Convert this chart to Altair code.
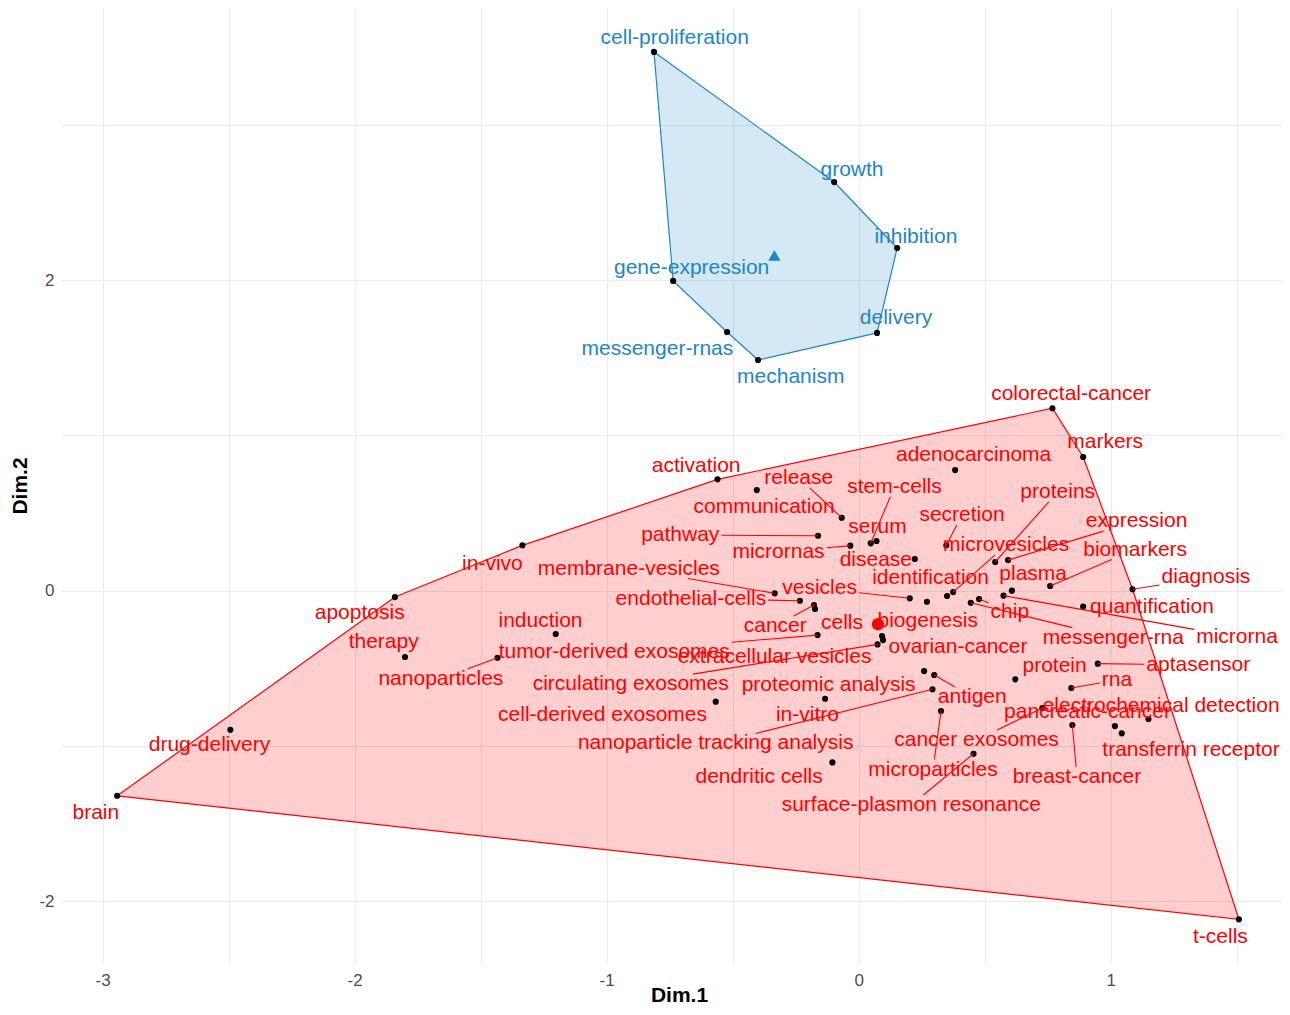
import altair as alt
import pandas as pd

# ---------------- data ----------------
cluster2_terms = ["cell-proliferation", "growth", "inhibition", "gene-expression",
                  "messenger-rnas", "mechanism", "delivery"]
cluster2_dim1 = [-0.812, -0.097, 0.153, -0.736, -0.522, -0.399, 0.073]
cluster2_dim2 = [3.469, 2.631, 2.206, 1.994, 1.665, 1.485, 1.659]

cluster1_terms = [
    "colorectal-cancer", "markers", "adenocarcinoma", "activation", "release",
    "stem-cells", "communication", "serum", "secretion", "proteins",
    "expression", "pathway", "micrornas", "disease", "microvesicles",
    "biomarkers", "in-vivo", "membrane-vesicles", "identification", "plasma",
    "diagnosis", "vesicles", "endothelial-cells", "apoptosis", "quantification",
    "induction", "cancer", "cells", "biogenesis", "chip",
    "messenger-rna", "microrna", "therapy", "tumor-derived exosomes", "extracellular vesicles",
    "ovarian-cancer", "aptasensor", "nanoparticles", "circulating exosomes", "proteomic analysis",
    "protein", "rna", "antigen", "cell-derived exosomes", "in-vitro",
    "pancreatic-cancer", "electrochemical detection", "drug-delivery", "nanoparticle tracking analysis", "cancer exosomes",
    "transferrin receptor", "dendritic cells", "microparticles", "breast-cancer", "surface-plasmon resonance",
    "brain", "t-cells"]
cluster1_dim1 = [
    0.769, 0.891, 0.383, -0.560, -0.067,
    0.048, -0.404, 0.071, 0.348, 0.542,
    0.593, -0.161, -0.033, 0.223, 0.375,
    0.760, -1.334, -0.333, 0.351, 0.608,
    1.087, 0.203, -0.233, -1.840, 0.891,
    -1.202, -0.177, -0.173, 0.271, 0.478,
    0.445, 0.575, -1.800, -0.163, 0.097,
    0.093, 0.949, -1.433, 0.075, 0.260,
    0.622, 0.844, 0.300, -0.567, -0.133,
    1.017, 1.150, -2.493, 0.293, 0.729,
    1.044, -0.104, 0.327, 0.848, 0.456,
    -2.942, 1.509]
cluster1_dim2 = [
    1.174, 0.860, 0.776, 0.716, 0.469,
    0.304, 0.647, 0.319, 0.291, 0.184,
    0.196, 0.353, 0.289, 0.203, -0.010,
    0.029, 0.291, -0.018, -0.035, -0.001,
    0.008, -0.050, -0.066, -0.042, -0.104,
    -0.280, -0.093, -0.119, -0.072, -0.055,
    -0.079, -0.033, -0.428, -0.287, -0.319,
    -0.293, -0.471, -0.433, -0.347, -0.519,
    -0.572, -0.628, -0.544, -0.716, -0.697,
    -0.873, -0.828, -0.897, -0.636, -0.757,
    -0.920, -1.107, -0.776, -0.866, -1.051,
    -1.322, -2.118]

# ---------------- label layout (repelled label offsets in pixels, leader flag) ----------------
label_layout = {
    "cell-proliferation": (20.7, -14.2, 0), "growth": (17.8, -12, 0), "inhibition": (18.7, -11, 0),
    "gene-expression": (18.5, -13, 0), "messenger-rnas": (-69.7, 16.5, 0), "mechanism": (32.7, 17, 0),
    "delivery": (19, -14.5, 0),
    "colorectal-cancer": (18.7, -14.3, 0), "markers": (22, -15, 0), "adenocarcinoma": (18.5, -15, 0),
    "activation": (-21.3, -13.3, 0), "release": (-43, -39.9, 1), "stem-cells": (23.8, -56.5, 1),
    "communication": (7.3, 16.8, 0), "serum": (1, -14.2, 0), "secretion": (15.7, -30.3, 1),
    "proteins": (62.5, -70, 1), "expression": (128.5, -39, 1), "pathway": (-137.8, -0.7, 1),
    "micrornas": (-71.8, 6.1, 1), "disease": (-39, 1, 0), "microvesicles": (53, -47, 1),
    "biomarkers": (85, -36.5, 1), "in-vivo": (-30, 18.2, 0), "membrane-vesicles": (-145.9, -24.8, 1),
    "identification": (-16.5, -17.5, 0), "plasma": (21.3, -16.2, 0), "diagnosis": (73.4, -11.8, 1),
    "vesicles": (-90.2, -9.8, 1), "endothelial-cells": (-109, -2.2, 1), "apoptosis": (-35.2, 16, 0),
    "quantification": (68.8, 0.3, 0), "induction": (-15.2, -13, 0), "cancer": (-38.8, 21, 1),
    "cells": (27, 14, 0), "biogenesis": (0.8, 18.8, 0), "chip": (30.8, 13, 1),
    "messenger-rna": (142.6, 34.8, 1), "microrna": (233.5, 41.3, 1), "therapy": (-21.3, -15, 0),
    "tumor-derived exosomes": (-203.3, 17, 1), "extracellular vesicles": (-108.5, 17, 0),
    "ovarian-cancer": (76, 11, 0), "aptasensor": (100.5, 1.3, 1), "nanoparticles": (-56.6, 21.3, 1),
    "circulating exosomes": (-246.8, 39.7, 1), "proteomic analysis": (-95.5, 14, 0),
    "protein": (39.2, -13.3, 0), "rna": (45.7, -8, 1), "antigen": (38, 22, 1),
    "cell-derived exosomes": (-113.2, 13.3, 0), "in-vitro": (-17.7, 16.3, 0),
    "pancreatic-cancer": (-27.4, -14, 0), "electrochemical detection": (12.7, -13, 0),
    "drug-delivery": (-20.9, 15.3, 0), "nanoparticle tracking analysis": (-216.8, 54.2, 1),
    "cancer exosomes": (-65.8, 32, 1), "transferrin receptor": (69.3, 16.2, 0),
    "dendritic cells": (-73.3, 14.7, 0), "microparticles": (-8, 58.5, 1),
    "breast-cancer": (4.7, 52, 1), "surface-plasmon resonance": (-62.3, 51.3, 1),
    "brain": (-21.4, 17.3, 0), "t-cells": (-18.5, 17.7, 0),
}

# ---------------- geometry helpers ----------------
W, H = 1221, 955
XDOM = [-3.165, 1.680]
YDOM = [-2.399, 3.752]
KX = W / (XDOM[1] - XDOM[0])
KY = H / (YDOM[1] - YDOM[0])
FONT = "Liberation Sans"
FS = 21

ARIAL = dict(zip("abcdefghijklmnopqrstuvwxyz",
                 [556, 556, 500, 556, 556, 278, 556, 556, 222, 222, 500, 222, 833,
                  556, 556, 556, 556, 333, 500, 278, 556, 500, 722, 500, 500, 500]))
ARIAL.update({"-": 333, " ": 278})


def text_width(s):
    return sum(ARIAL.get(c, 556) for c in s) / 1000.0 * FS


def hull(points):
    pts = sorted(set(points))
    if len(pts) < 3:
        return pts

    def cross(o, a, b):
        return (a[0] - o[0]) * (b[1] - o[1]) - (a[1] - o[1]) * (b[0] - o[0])
    lower, upper = [], []
    for p in pts:
        while len(lower) >= 2 and cross(lower[-2], lower[-1], p) <= 0:
            lower.pop()
        lower.append(p)
    for p in reversed(pts):
        while len(upper) >= 2 and cross(upper[-2], upper[-1], p) <= 0:
            upper.pop()
        upper.append(p)
    return lower[:-1] + upper[:-1]


rows, hull_rows = [], []
for cl, terms, d1s, d2s in [("1", cluster1_terms, cluster1_dim1, cluster1_dim2),
                            ("2", cluster2_terms, cluster2_dim1, cluster2_dim2)]:
    for t, a, b in zip(terms, d1s, d2s):
        dx, dy, seg = label_layout[t]
        hw = text_width(t) / 2 + 2
        hh = 10
        tx = (abs(dx) - hw) / abs(dx) if dx != 0 else -1
        ty = (abs(dy) - hh) / abs(dy) if dy != 0 else -1
        tt = max(tx, ty)
        has_seg = bool(seg) and tt > 0 and (tt * (dx * dx + dy * dy) ** 0.5) > 3
        ex, ey = (tt * dx, tt * dy) if has_seg else (0.0, 0.0)
        rows.append({"term": t, "Dim1": a, "Dim2": b, "cluster": cl,
                     "lx": a + dx / KX, "ly": b - dy / KY,
                     "sx": a + ex / KX, "sy": b - ey / KY, "seg": has_seg})
    hv = hull(list(zip(d1s, d2s)))
    hv = hv + [hv[0]]
    for i, (a, b) in enumerate(hv):
        hull_rows.append({"cluster": cl, "Dim1": a, "Dim2": b, "idx": i})

df = pd.DataFrame(rows)
hdf = pd.DataFrame(hull_rows)

colors = {"1": "#FF0000", "2": "#1C86C8"}
cscale = alt.Scale(domain=["1", "2"], range=[colors["1"], colors["2"]])

xgrid = [-3 + 0.5 * i for i in range(10)]
ygrid = [-2, -1, 0, 1, 2, 3]

x_enc = alt.X("Dim1:Q", scale=alt.Scale(domain=XDOM, nice=False, zero=False),
              axis=alt.Axis(values=xgrid, title="Dim.1",
                            labelExpr="datum.value % 1 === 0 ? toString(datum.value) : ''",
                            grid=True, gridColor="#EBEBEB", gridWidth=1.1,
                            domain=False, ticks=False, labelPadding=9,
                            labelFont=FONT, labelFontSize=17, labelColor="#4D4D4D",
                            titleFont=FONT, titleFontSize=21, titleFontWeight="bold",
                            titleColor="#000000", titleX=618, titleY=38,
                            titleBaseline="alphabetic"))
y_enc = alt.Y("Dim2:Q", scale=alt.Scale(domain=YDOM, nice=False, zero=False),
              axis=alt.Axis(values=ygrid, title="Dim.2",
                            labelExpr="datum.value % 2 === 0 ? toString(datum.value) : ''",
                            grid=True, gridColor="#EBEBEB", gridWidth=1.1,
                            domain=False, ticks=False, labelPadding=7,
                            labelFont=FONT, labelFontSize=17, labelColor="#4D4D4D",
                            titleFont=FONT, titleFontSize=21, titleFontWeight="bold",
                            titleColor="#000000", titlePadding=8))

layers = []
for cl in ["1", "2"]:
    layers.append(
        alt.Chart(hdf[hdf.cluster == cl]).mark_line(
            stroke=colors[cl], fill=colors[cl], fillOpacity=0.19, strokeWidth=1.2
        ).encode(
            x=x_enc, y=y_enc, order=alt.Order("idx:Q")
        )
    )

base = alt.Chart(df)
points = base.mark_circle(color="#000000", opacity=1, size=38).encode(
    x=alt.X("Dim1:Q"), y=alt.Y("Dim2:Q"))

segs = base.transform_filter("datum.seg").mark_rule(strokeWidth=1.1).encode(
    x=alt.X("Dim1:Q"), y=alt.Y("Dim2:Q"), x2="sx:Q", y2="sy:Q",
    color=alt.Color("cluster:N", scale=cscale, legend=None))

labels = base.mark_text(font=FONT, fontSize=FS, align="center", baseline="middle").encode(
    x=alt.X("lx:Q"), y=alt.Y("ly:Q"), text="term:N",
    color=alt.Color("cluster:N", scale=cscale, legend=None))

centroids = base.transform_aggregate(
    Dim1="mean(Dim1)", Dim2="mean(Dim2)", groupby=["cluster"]
).mark_point(filled=True, opacity=1, size=150).encode(
    x=alt.X("Dim1:Q"), y=alt.Y("Dim2:Q"),
    color=alt.Color("cluster:N", scale=cscale, legend=None),
    shape=alt.Shape("cluster:N", scale=alt.Scale(domain=["1", "2"], range=["circle", "triangle-up"]),
                    legend=None))

chart = alt.layer(*layers, points, segs, labels, centroids).properties(
    width=W, height=H,
    autosize=alt.AutoSizeParams(type="none"),
    padding={"left": 53, "top": 0, "right": 0, "bottom": 44},
).configure(background="#FFFFFF").configure_view(stroke=None)

chart.save("out.html", embed_options={"renderer": "svg", "actions": False})
